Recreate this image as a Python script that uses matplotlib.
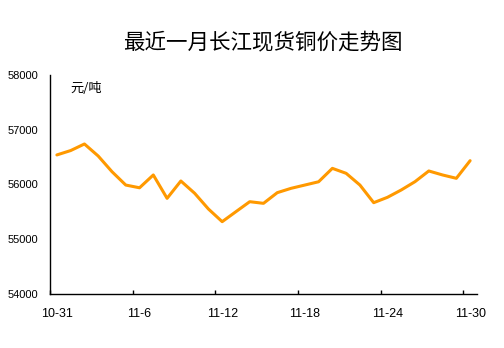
import matplotlib
matplotlib.use("Agg")
import matplotlib.pyplot as plt

plt.rcParams['font.family'] = ['Liberation Sans', 'Noto Sans CJK SC', 'DejaVu Sans']

title = "最近一月长江现货铜价走势图"
unit = "元/吨"
days = list(range(31))
prices = [56540, 56620, 56740, 56520, 56234, 55990, 55940, 56174, 55747, 56064,
          55840, 55553, 55321, 55504, 55686, 55656, 55851, 55930, 55990, 56050,
          56295, 56204, 55990, 55668, 55766, 55900, 56052, 56247, 56174, 56113,
          56435]
tick_labels = ["10-31", "11-6", "11-12", "11-18", "11-24", "11-30"]
tick_days = [0, 6, 12, 18, 24, 30]
yticks = [54000, 55000, 56000, 57000, 58000]

fig = plt.figure(figsize=(5.04, 3.48), dpi=100)
ax = fig.add_axes([50/504, 1-294/348, 427/504, 219/348])

xs = [d + 0.5 for d in days]
ax.plot(xs, prices, color='#FF9900', lw=2.2, solid_joinstyle='round', solid_capstyle='round')

ax.set_xlim(0, 31)
ax.set_ylim(54000, 58000)
ax.set_yticks(yticks)
ax.set_yticklabels([str(v) for v in yticks], fontsize=8)
ax.tick_params(axis='y', length=0, pad=8.5)

ax.set_xticks(tick_days)
ax.set_xticklabels([])
ax.tick_params(axis='x', which='major', direction='in', length=3, width=1)
ax.set_xticks([d + 0.5 for d in tick_days], minor=True)
ax.set_xticklabels(tick_labels, minor=True, fontsize=9)
ax.tick_params(axis='x', which='minor', length=0, pad=10)

for s in ['top', 'right']:
    ax.spines[s].set_visible(False)
for s in ['left', 'bottom']:
    ax.spines[s].set_linewidth(1)
    ax.spines[s].set_color('black')

fig.text(263/504, 1-43/348, title, fontsize=15.5, ha='center', va='center',
         family=['Noto Sans CJK SC', 'DejaVu Sans'])
ax.text(70/504, 1-88/348, unit, transform=fig.transFigure, fontsize=9.5,
        ha='left', va='center', family=['Noto Sans CJK SC', 'DejaVu Sans'])

fig.savefig("out.png", dpi=100)
